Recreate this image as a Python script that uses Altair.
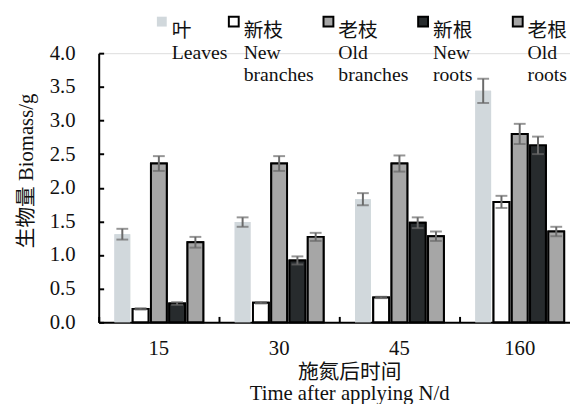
import altair as alt
import pandas as pd

days = ["15", "30", "45", "160"]
parts = ["Leaves", "New branches", "Old branches", "New roots", "Old roots"]
legend_lines = [
    ["叶", "Leaves", ""],
    ["新枝", "New", "branches"],
    ["老枝", "Old", "branches"],
    ["新根", "New", "roots"],
    ["老根", "Old", "roots"],
]
fills = ["#d1d8dc", "#ffffff", "#a6a6a6", "#272b2d", "#a6a6a6"]
strokes = ["transparent", "#000000", "#000000", "#000000", "#000000"]

leaves = [1.31, 1.49, 1.83, 3.44]
leaves_err = [0.08, 0.07, 0.09, 0.18]
new_branches = [0.20, 0.29, 0.37, 1.79]
new_branches_err = [0.01, 0.01, 0.01, 0.09]
old_branches = [2.36, 2.36, 2.36, 2.80]
old_branches_err = [0.11, 0.11, 0.12, 0.15]
new_roots = [0.28, 0.92, 1.48, 2.63]
new_roots_err = [0.02, 0.06, 0.08, 0.13]
old_roots = [1.19, 1.27, 1.28, 1.35]
old_roots_err = [0.08, 0.06, 0.07, 0.07]

series = [leaves, new_branches, old_branches, new_roots, old_roots]
errors = [leaves_err, new_branches_err, old_branches_err, new_roots_err, old_roots_err]

rows = []
for p, vals, errs in zip(parts, series, errors):
    for d, v, e in zip(days, vals, errs):
        rows.append({"day": d, "part": p, "value": v, "lo": v - e, "hi": v + e})
df = pd.DataFrame(rows)

FONT = "Liberation Serif, Noto Sans CJK SC"

# legend label expression (multi-line labels)
expr = "''"
for p, lines in reversed(list(zip(parts, legend_lines))):
    arr = "[" + ",".join("'" + s + "'" for s in lines) + "]"
    expr = f"datum.label == '{p}' ? {arr} : ({expr})"


def make_legend(vals, lx):
    return alt.Legend(
        title=None,
        orient="none",
        legendX=lx,
        legendY=-42,
        direction="horizontal",
        values=vals,
        symbolType="square",
        symbolSize=100,
        symbolStrokeWidth=2,
        symbolOffset=4,
        labelExpr=expr,
        labelFont=FONT,
        labelFontSize=20,
        labelColor="#111111",
        labelBaseline="top",
        labelOffset=0,
        labelLimit=300,
        columnPadding=0,
        gridAlign="all",
        padding=0,
    )


legend_a = make_legend(parts[:1], 50)
legend_b = make_legend(parts[1:], 123)

xscale = alt.Scale(range=[0, 488], paddingInner=0, paddingOuter=0)
yscale = alt.Scale(domain=[0, 4], nice=False)
xoff = alt.XOffset("part:N", sort=parts, scale=alt.Scale(paddingInner=0.135, paddingOuter=0.86))
fill_scale = alt.Scale(domain=parts, range=fills)
stroke_scale = alt.Scale(domain=parts, range=strokes)

main_x_axis = alt.Axis(
    orient="bottom", ticks=False, tickSize=0, labelAngle=0,
    labelFont=FONT, labelFontSize=21, labelColor="#111111", labelPadding=16,
    domainColor="#000000", domainWidth=2,
    title=["施氮后时间", "Time after applying N/d"],
    titleFont=FONT, titleFontSize=21, titleFontWeight="normal", titleColor="#111111",
    titleLineHeight=21, titleX=254, titleY=40, titleAlign="center", titleBaseline="top",
)
main_y_axis = alt.Axis(
    orient="left", ticks=False, tickSize=0, values=[0, 0.5, 1, 1.5, 2, 2.5, 3, 3.5, 4],
    format=".1f", labelFont=FONT, labelFontSize=21, labelColor="#111111", labelPadding=24,
    domainColor="#000000", domainWidth=2, grid=False,
    title="生物量 Biomass/g", titleFont=FONT, titleFontSize=21, titleFontWeight="normal",
    titleColor="#111111", titleX=-73, titleY=119, titleAlign="center", titleBaseline="middle",
    titleAngle=270,
)

bars = alt.Chart(df).mark_bar(strokeWidth=2).encode(
    x=alt.X("day:N", sort=days, scale=xscale, axis=main_x_axis),
    xOffset=xoff,
    y=alt.Y("value:Q", scale=yscale, axis=main_y_axis),
    fill=alt.Fill("part:N", sort=parts, scale=fill_scale, legend=legend_a),
    stroke=alt.Stroke("part:N", sort=parts, scale=stroke_scale, legend=legend_a),
)
bars_b = alt.Chart(df).mark_bar(strokeWidth=2).encode(
    x=alt.X("day:N", sort=days, axis=None),
    xOffset=xoff,
    y=alt.Y("value:Q", axis=None),
    fill=alt.Fill("part:N", sort=parts, legend=legend_b),
    stroke=alt.Stroke("part:N", sort=parts, legend=legend_b),
)

tick_x_axis = alt.Axis(
    orient="top", offset=-273, labels=False, domain=False, ticks=True, tickSize=6,
    tickWidth=2, tickColor="#000000", bandPosition=0, title=None, grid=False,
)
tick_y_axis = alt.Axis(
    orient="right", offset=-478, labels=False, domain=False, ticks=True, tickSize=5,
    tickWidth=2, tickColor="#000000", values=[0, 0.5, 1, 1.5, 2, 2.5, 3, 3.5, 4],
    title=None, grid=False,
)

err_color = "#6a6a6a"
rules = alt.Chart(df).mark_rule(color=err_color, strokeWidth=2).encode(
    x=alt.X("day:N", sort=days, axis=tick_x_axis),
    xOffset=xoff,
    y=alt.Y("lo:Q", axis=tick_y_axis),
    y2="hi:Q",
)
caps_lo = alt.Chart(df).mark_tick(color=err_color, thickness=2, size=12).encode(
    x=alt.X("day:N", sort=days, axis=None),
    xOffset=xoff,
    y=alt.Y("lo:Q", axis=None),
)
caps_hi = alt.Chart(df).mark_tick(color=err_color, thickness=2, size=12).encode(
    x=alt.X("day:N", sort=days, axis=None),
    xOffset=xoff,
    y=alt.Y("hi:Q", axis=None),
)

chart = (
    alt.layer(bars, bars_b, rules, caps_lo, caps_hi)
    .resolve_axis(x="independent", y="independent")
    .resolve_legend(fill="independent", stroke="independent")
    .properties(
        width=478,
        height=273,
        autosize=alt.AutoSizeParams(type="none"),
        padding={"left": 92, "top": 43, "right": 0, "bottom": 80},
    )
    .configure_view(stroke=None)
    .configure(background="white")
)

chart.save("out.html", embed_options={"renderer": "svg", "actions": False})
